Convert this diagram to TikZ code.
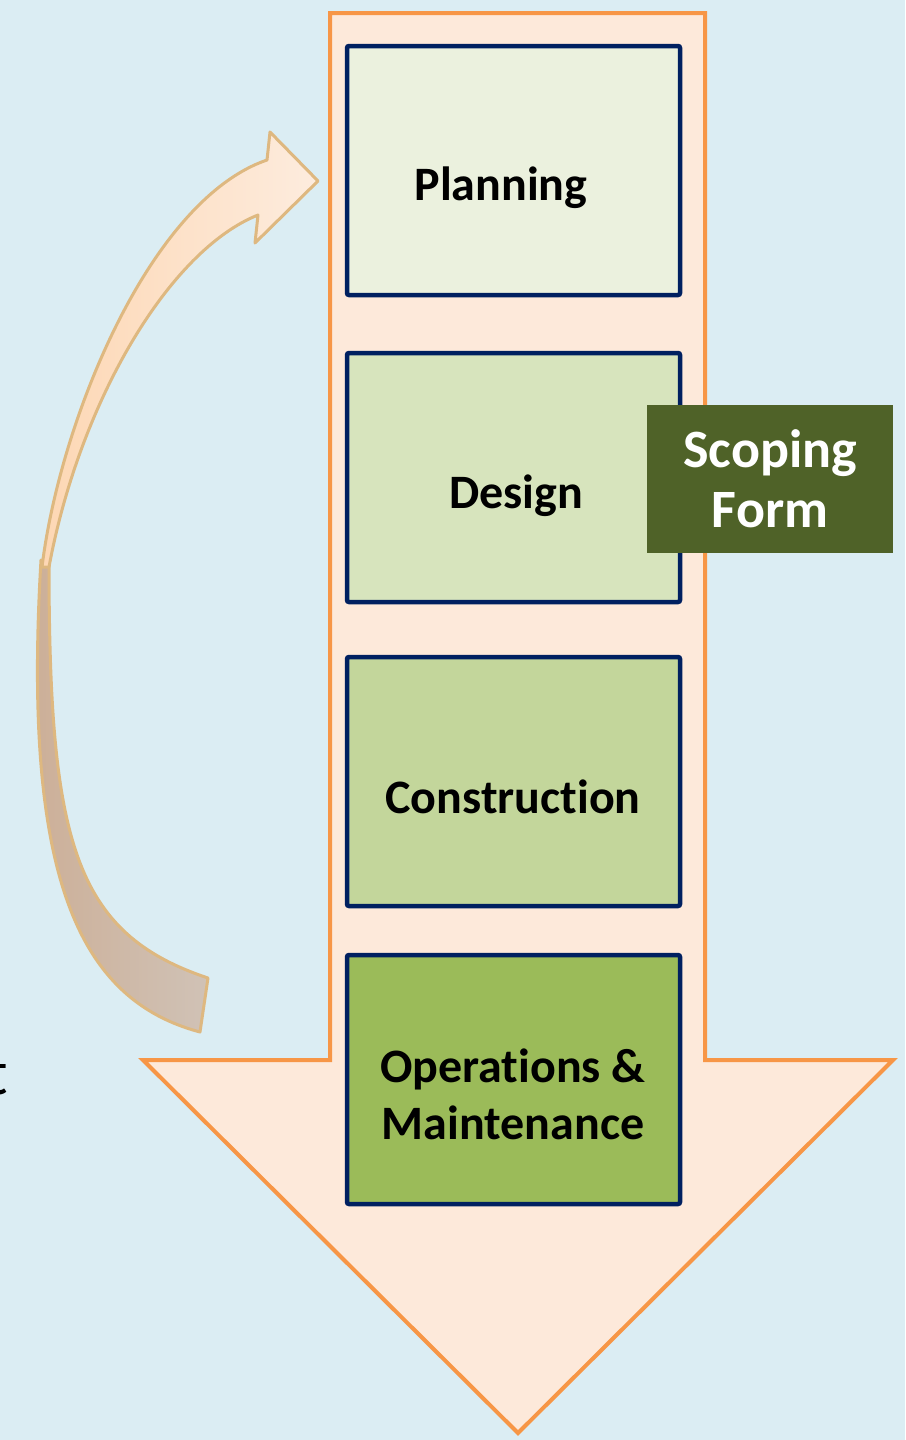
\documentclass[tikz,border=0pt]{standalone}
\usepackage{fontspec}
\setmainfont{Carlito}[Ligatures=NoCommon]
\usepackage{tikz}

\definecolor{bgblue}{RGB}{219,237,243}
\definecolor{arroworange}{RGB}{247,150,70}
\definecolor{arrowfill}{RGB}{253,233,218}
\definecolor{boxnavy}{RGB}{0,32,96}
\definecolor{planfill}{RGB}{235,241,222}
\definecolor{designfill}{RGB}{215,228,189}
\definecolor{constrfill}{RGB}{195,214,155}
\definecolor{omfill}{RGB}{155,187,89}
\definecolor{scopefill}{RGB}{79,98,40}
\definecolor{curvepeach}{RGB}{253,215,180}
\definecolor{curvelight}{RGB}{253,236,222}
\definecolor{curvetan}{RGB}{204,174,150}
\definecolor{curvegrey}{RGB}{208,194,182}
\definecolor{curveedge}{RGB}{222,184,128}

\begin{document}
\begin{tikzpicture}[x=1pt,y=-1pt,
  stage/.style={draw=boxnavy,line width=4.5pt,rounded corners=2pt,
    minimum width=333pt,minimum height=249pt,inner sep=0pt},
  stagetext/.style={font=\bfseries\fontsize{48}{57}\selectfont,align=center,inner sep=0pt},
  curveband/.style={draw=curveedge,line width=3pt,line join=round}]
\fill[bgblue] (0,0) rectangle (905,1440);
\useasboundingbox (0,0) rectangle (905,1440);
% big downward arrow
\draw[arroworange,fill=arrowfill,line width=4pt,line join=miter]
  (330,13) -- (705,13) -- (705,1060) -- (893,1060) -- (518,1433)
  -- (143,1060) -- (330,1060) -- cycle;
% stages
\node[stage,fill=planfill] (plan) at (513.5,170.5) {};
\node[stage,fill=designfill] (design) at (513.5,477.5) {};
\node[stage,fill=constrfill] (constr) at (513.5,781.5) {};
\node[stage,fill=omfill] (om) at (513.5,1079.5) {};
\node[stagetext] (plan-t) at (501,188) {Planning};
\node[stagetext] (design-t) at (516,496) {Design};
\node[stagetext] (constr-t) at (513,797) {Construction};
\node[stagetext] (om-t) at (513,1094) {Operations \&\\Maintenance};
\node[fill=scopefill,text=white,minimum width=246pt,minimum height=148pt,inner sep=0pt,
  font=\bfseries\fontsize{54}{60}\selectfont,align=center] (scope) at (770,479) {Scoping\\Form};
% curved return arrow, back part then front part
\draw[curveband,left color=curvetan,right color=curvegrey]
  (41,560) .. controls (22,880) and (80,1000) .. (200,1032)
  -- (208,978) .. controls (73,933) and (49,840) .. (49,560) -- cycle;
\draw[curveband,left color=curvepeach,right color=curvelight]
  (42,567) .. controls (60,420) and (150,200) .. (267,160)
  -- (270,132) -- (318,181) -- (255,243) -- (258,215)
  .. controls (170,250) and (80,400) .. (49,567) -- cycle;
\node[anchor=base east,inner sep=0pt,font=\fontsize{64}{70}\selectfont] (cut) at (8,1094) {t};
\end{tikzpicture}
\end{document}
